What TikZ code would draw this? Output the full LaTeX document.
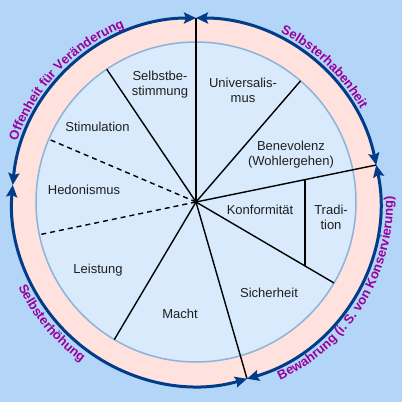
\documentclass[tikz,border=0pt]{standalone}
\usepackage{fontspec}
\setmainfont{Liberation Sans}
\usetikzlibrary{arrows.meta,decorations.text,calc}
\definecolor{bg}{HTML}{B3D5F8}
\definecolor{ring}{HTML}{FFE1DE}
\definecolor{disc}{HTML}{D8EAFC}
\definecolor{discline}{HTML}{8DB3D9}
\definecolor{navy}{HTML}{003C88}
\definecolor{vpurple}{HTML}{990099}
\begin{document}
\begin{tikzpicture}[x=1pt,y=1pt,
  spoke/.style={line width=1.4pt, black},
  dspoke/.style={spoke, dash pattern=on 5pt off 4pt},
  tipstyle/.style={},
  arcarrow/.style={line width=3pt, navy, {Stealth[length=12pt,width=11pt,inset=2pt]}-{Stealth[length=12pt,width=11pt,inset=2pt]}},
  lbl/.style={font=\fontsize{13}{15}\selectfont, text=black!88, align=center, inner sep=0pt},
  arclabel/.style={decorate, decoration={text along path, text align=center,
     text={|\fontsize{13}{15}\selectfont\bfseries\color{vpurple}|#1}}}
]
\useasboundingbox (-196pt,-200pt) rectangle (206pt,202pt);
\fill[bg] (-196pt,-200pt) rectangle (206pt,202pt);

\coordinate (O) at (0,0);
% ring and disc
\fill[ring] (O) circle[radius=184pt];
\fill[disc] (O) circle[radius=160pt];
\draw[discline, line width=1.5pt] (O) circle[radius=160pt];

% meeting points of the arcs
\coordinate (Ptop) at (90:184pt);
\coordinate (Pleft) at (174.7:184pt);
\coordinate (Pright) at (11.6:184pt);
\coordinate (Pbot) at (-73.9:184pt);

% spoke ends on the inner circle
\coordinate (S1) at (123.9:160pt);
\coordinate (S2) at (49.2:160pt);
\coordinate (S3) at (-30.4:160pt);
\coordinate (S4) at (239.3:160pt);
\coordinate (D1) at (156.9:160pt);
\coordinate (D2) at (191.8:160pt);
\coordinate (T1) at (109pt,22.4pt);
\coordinate (T2) at (109pt,-64pt);

% spokes
\draw[spoke] (O) -- (Ptop);
\draw[spoke] (O) -- (Pright);
\draw[spoke] (O) -- (Pbot);
\draw[spoke] (O) -- (S1);
\draw[spoke] (O) -- (S2);
\draw[spoke] (O) -- (S3);
\draw[spoke] (O) -- (S4);
\draw[dspoke] (O) -- (D1);
\draw[dspoke] (O) -- (D2);
\draw[spoke] (T1) -- (T2);

% arcs with arrows
\draw[arcarrow] (Pleft) arc[start angle=174.7, end angle=90, radius=184pt];
\draw[arcarrow] (Ptop) arc[start angle=90, end angle=11.6, radius=184pt];
\draw[arcarrow] (Pright) arc[start angle=11.6, end angle=-73.9, radius=184pt];
\draw[arcarrow] (Pbot) arc[start angle=-73.9, end angle=-185.3, radius=184pt];

% arc labels
\path[arclabel={Offenheit für Veränderung}] (172:189pt) arc[start angle=172, end angle=101.4, radius=189pt];
\path[arclabel={Selbsterhabenheit}] (80:189pt) arc[start angle=80, end angle=12.8, radius=189pt];
\path[arclabel={Bewahrung (i. S. von Konservierung)}] (-80:197pt) arc[start angle=-80, end angle=17, radius=197pt];
\path[arclabel={Selbsterhöhung}] (200:197pt) arc[start angle=200, end angle=240, radius=197pt];

% sector labels
\node[lbl] (selbst) at (-36pt,117.5pt) {Selbstbe-\\stimmung};
\node[lbl] (univ) at (47pt,112pt) {Universalis-\\mus};
\node[lbl] (bene) at (95pt,47pt) {Benevolenz\\(Wohlergehen)};
\node[lbl] (konf) at (64pt,-8pt) {Konformität};
\node[lbl] (trad) at (135pt,-15pt) {Tradi-\\tion};
\node[lbl] (sich) at (73pt,-91pt) {Sicherheit};
\node[lbl] (macht) at (-16pt,-112pt) {Macht};
\node[lbl] (leist) at (-98pt,-68pt) {Leistung};
\node[lbl] (hedo) at (-112pt,12pt) {Hedonismus};
\node[lbl] (stim) at (-98.5pt,75pt) {Stimulation};
\end{tikzpicture}
\end{document}
